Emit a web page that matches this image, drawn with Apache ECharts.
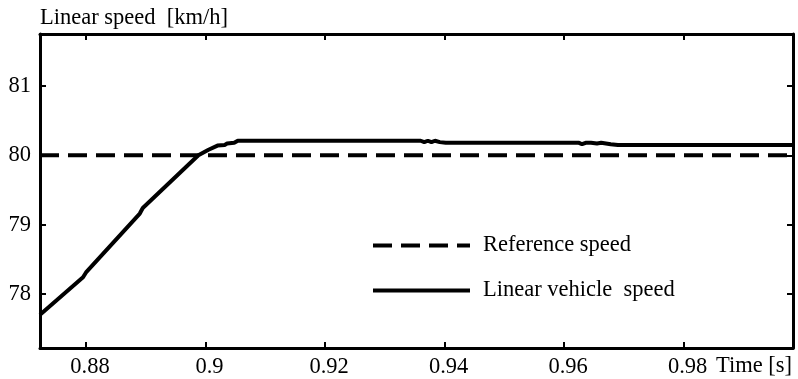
<!DOCTYPE html>
<html>
<head>
<meta charset="utf-8">
<script src="https://cdn.jsdelivr.net/npm/echarts@6/dist/echarts.min.js"></script>
<style>
  html, body { margin: 0; padding: 0; background: #fff; }
  #chart { width: 798px; height: 379px; }
</style>
</head>
<body>
<div id="chart"></div>
<script>
// time [s]
const timeData = [
  0.8723, 0.8795, 0.8800, 0.8890, 0.8895, 0.8988, 0.9005, 0.9020, 0.9032, 0.9036,
  0.9048, 0.9054, 0.9360, 0.9366, 0.9372, 0.9378, 0.9384, 0.9392, 0.9402, 0.9625,
  0.9630, 0.9636, 0.9645, 0.9655, 0.9662, 0.9670, 0.9678, 0.9690, 0.9983
]
// linear vehicle speed [km/h]
const speedData = [
  77.70, 78.24, 78.31, 79.16, 79.24, 80.00, 80.08, 80.14, 80.15, 80.17,
  80.18, 80.21, 80.21, 80.19, 80.21, 80.19, 80.21, 80.19, 80.18, 80.18,
  80.16, 80.18, 80.18, 80.17, 80.18, 80.17, 80.16, 80.15, 80.15
]
const refTime = [0.8723, 0.9983]
const refSpeed = [80, 80]

const xMin = 0.8723
const xMax = 0.9983
const yMin = 77.22
const yMax = 81.75

const font = 'Liberation Serif'
const fontSize = 22.5

const pairs = (xs, ys) => xs.map((x, i) => [x, ys[i]])

const chart = echarts.init(document.getElementById('chart'))

const frameAxis = {
  type: 'value',
  axisLine: { show: true, onZero: false, lineStyle: { color: '#000', width: 3 } },
  axisTick: { show: true, inside: true, length: 6, lineStyle: { color: '#000', width: 2 } },
  splitLine: { show: false }
}

const refLine = { color: '#000', width: 4, type: [19, 9] }
const speedLine = { color: '#000', width: 4 }

chart.setOption({
  animation: false,
  color: ['#000', '#000'],
  grid: { left: 40, right: 5, top: 34, bottom: 31 },
  legend: {
    orient: 'vertical',
    left: 366,
    top: 229,
    itemWidth: 97,
    itemHeight: 22,
    itemGap: 22,
    itemStyle: { opacity: 0 },
    textStyle: { fontFamily: font, fontSize: fontSize, color: '#000', padding: [0, 0, 0, 8] },
    data: [
      { name: 'Reference speed', lineStyle: refLine },
      { name: 'Linear vehicle  speed', lineStyle: speedLine }
    ]
  },
  xAxis: [
    Object.assign({}, frameAxis, {
      position: 'bottom',
      min: xMin,
      max: xMax,
      splitNumber: 6,
      name: 'Time [s]',
      nameLocation: 'end',
      nameGap: -1,
      nameTextStyle: { fontFamily: font, fontSize: fontSize, color: '#000', align: 'right', verticalAlign: 'top', padding: [7, 0, 0, 0] },
      axisLabel: {
        fontFamily: font, fontSize: fontSize, color: '#000', margin: 8,
        padding: [0, 0, 0, 8],
        showMinLabel: false, showMaxLabel: false
      }
    }),
    Object.assign({}, frameAxis, {
      position: 'top',
      min: xMin,
      max: xMax,
      splitNumber: 6,
      axisLabel: { show: false }
    })
  ],
  yAxis: [
    Object.assign({}, frameAxis, {
      position: 'left',
      min: yMin,
      max: yMax,
      splitNumber: 4,
      name: 'Linear speed  [km/h]',
      nameLocation: 'end',
      nameGap: 16,
      nameTextStyle: { fontFamily: font, fontSize: fontSize, color: '#000', align: 'left', verticalAlign: 'middle' },
      axisLabel: {
        fontFamily: font, fontSize: fontSize, color: '#000', margin: 9,
        padding: [3, 0, 0, 0],
        showMinLabel: false, showMaxLabel: false
      }
    }),
    Object.assign({}, frameAxis, {
      position: 'right',
      min: yMin,
      max: yMax,
      splitNumber: 4,
      axisLabel: { show: false }
    })
  ],
  series: [
    {
      name: 'Reference speed',
      type: 'line',
      showSymbol: false,
      symbol: 'none',
      itemStyle: { color: '#000' },
      lineStyle: refLine,
      data: pairs(refTime, refSpeed)
    },
    {
      name: 'Linear vehicle  speed',
      type: 'line',
      showSymbol: false,
      symbol: 'none',
      itemStyle: { color: '#000' },
      lineStyle: speedLine,
      data: pairs(timeData, speedData)
    }
  ]
})
</script>
</body>
</html>
